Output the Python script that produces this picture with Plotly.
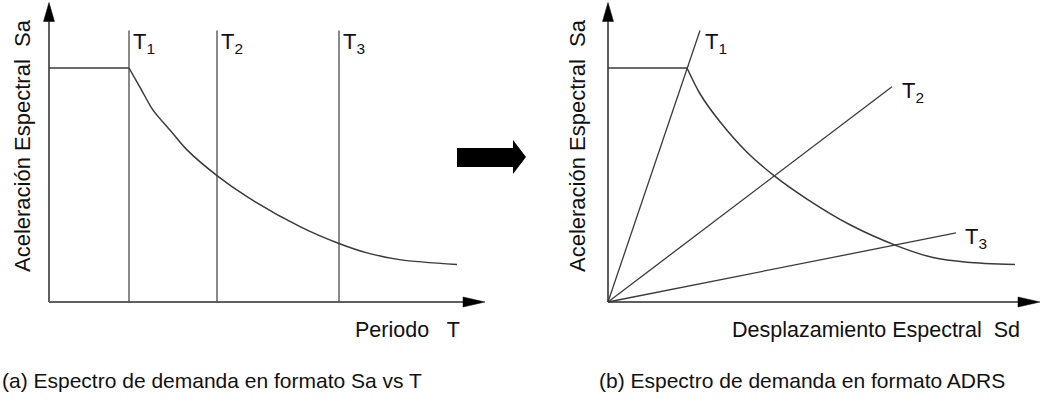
import plotly.graph_objects as go

# ---------------- data ----------------
# (a) Sa vs T
T_periods = [0.40, 0.84, 1.45]                 # T1, T2, T3 (s)
T_names = ["T<sub>1</sub>", "T<sub>2</sub>", "T<sub>3</sub>"]
Sa_plateau = 1.00
T_curve = [0.40, 0.46, 0.52, 0.61, 0.69, 0.84, 0.99, 1.26, 1.45, 1.59, 1.76, 2.04]
Sa_curve = [1.00, 0.91, 0.82, 0.73, 0.65, 0.54, 0.45, 0.32, 0.25, 0.21, 0.18, 0.16]
Sa_period_top = 1.16
T_axis_max = 2.18
Sa_axis_max = 1.28

# (b) ADRS
Sd_curve = [3.95, 4.60, 5.60, 6.95, 8.30, 9.95, 12.10, 14.45, 16.25, 17.95, 20.35]
Sa_adrs = [1.00, 0.89, 0.77, 0.64, 0.54, 0.44, 0.33, 0.24, 0.19, 0.17, 0.16]
Sd_plateau_end = 3.95
Sd_ray_end = [4.60, 14.20, 17.40]
Sa_ray_end = [1.16, 0.92, 0.295]
Sd_axis_max = 21.6

# ---------------- layout geometry (pixels) ----------------
W, H = 1041, 407
X0_LEFT, X0_RIGHT, Y0 = 49, 608, 302       # axis origins
SX_LEFT, SX_RIGHT, SY = 200.0, 20.0, 234.0  # px per data unit
SPLIT = W / 2.0

FONT = "Liberation Sans, Arial, sans-serif"
AXIS_COLOR = "#5f5f5f"
LINE_COLOR = "#3a3a3a"

fig = go.Figure()

def line(x, y, xa, color=LINE_COLOR, width=1.3, shape="linear"):
    fig.add_trace(go.Scatter(x=x, y=y, mode="lines", xaxis=xa[0], yaxis=xa[1],
                             line=dict(color=color, width=width, shape=shape, smoothing=0.8),
                             hoverinfo="skip", showlegend=False))

def tri(x, y, xa):
    fig.add_trace(go.Scatter(x=x, y=y, mode="lines", fill="toself", xaxis=xa[0], yaxis=xa[1],
                             fillcolor="black", line=dict(color="black", width=0.5),
                             hoverinfo="skip", showlegend=False))

def axes_with_arrows(xmax, sx, xa):
    ah_len, ah_half = 19 / SY, 5.5 / sx
    line([0, 0], [0, Sa_axis_max - ah_len], xa, AXIS_COLOR, 2)
    tri([-ah_half, ah_half, 0, -ah_half],
        [Sa_axis_max - ah_len, Sa_axis_max - ah_len, Sa_axis_max, Sa_axis_max - ah_len], xa)
    xh_len, xh_half = 22 / sx, 5 / SY
    line([0, xmax - xh_len], [0, 0], xa, AXIS_COLOR, 2)
    tri([xmax - xh_len, xmax - xh_len, xmax, xmax - xh_len],
        [-xh_half, xh_half, 0, -xh_half], xa)

L = ("x", "y")
R = ("x2", "y2")

# ----- (a) -----
axes_with_arrows(T_axis_max, SX_LEFT, L)
line([0, T_periods[0]], [Sa_plateau, Sa_plateau], L)
for tp in T_periods:
    line([tp, tp], [0, Sa_period_top], L, "#4a4a4a", 1.3)
line(T_curve, Sa_curve, L, "#3a3a3a", 1.5, "spline")

# ----- (b) -----
axes_with_arrows(Sd_axis_max, SX_RIGHT, R)
line([0, Sd_plateau_end], [Sa_plateau, Sa_plateau], R)
for sd, sa in zip(Sd_ray_end, Sa_ray_end):
    line([0, sd], [0, sa], R, "#3a3a3a", 1.3)
line(Sd_curve, Sa_adrs, R, "#3a3a3a", 1.5, "spline")

ann = []
def px_text(text, px, py, size, xanchor="center", yanchor="middle", angle=0):
    ann.append(dict(text=text, x=px / W, y=1 - py / H, xref="paper", yref="paper",
                    xanchor=xanchor, yanchor=yanchor, showarrow=False, textangle=angle,
                    font=dict(family=FONT, size=size, color="#111")))

for tp, name in zip(T_periods, T_names):
    ann.append(dict(text=name, x=tp, y=Sa_period_top, xref="x", yref="y",
                    xanchor="left", yanchor="middle", xshift=2, yshift=-12, showarrow=False,
                    font=dict(family=FONT, size=22, color="#111")))
for sd, sa, name, dx, dy in zip(Sd_ray_end, Sa_ray_end, T_names, [3, 8, 7], [-12, -5, -5]):
    ann.append(dict(text=name, x=sd, y=sa, xref="x2", yref="y2",
                    xanchor="left", yanchor="middle", xshift=dx, yshift=dy, showarrow=False,
                    font=dict(family=FONT, size=22, color="#111")))

px_text("Aceleración Espectral  Sa", 22, 146, 22, angle=-90)
px_text("Aceleración Espectral  Sa", 577, 146, 22, angle=-90)
px_text("Periodo   T", 462, 330, 21.5, xanchor="right")
px_text("Desplazamiento Espectral  Sd", 1022, 330, 21.5, xanchor="right")
px_text("(a) Espectro de demanda en formato Sa vs T", 0, 380, 21, xanchor="left")
px_text("(b) Espectro de demanda en formato ADRS", 802, 380, 21)

pts = [(457, 148), (513, 148), (513, 140), (526, 157), (513, 174), (513, 167), (457, 167)]
path = "M " + " L ".join(f"{x / W:.5f},{1 - y / H:.5f}" for x, y in pts) + " Z"
shapes = [dict(type="path", xref="paper", yref="paper", path=path,
               fillcolor="black", line=dict(color="black", width=0))]

def xrange(x0, sx, d0, d1):
    return [(d0 - x0) / sx, (d1 - x0) / sx]

yr = [-(H - Y0) / SY, Y0 / SY]
fig.update_layout(
    width=W, height=H, margin=dict(l=0, r=0, t=0, b=0),
    paper_bgcolor="white", plot_bgcolor="white",
    xaxis=dict(domain=[0, SPLIT / W], range=xrange(X0_LEFT, SX_LEFT, 0, SPLIT), visible=False),
    yaxis=dict(domain=[0, 1], range=yr, visible=False),
    xaxis2=dict(domain=[SPLIT / W, 1], range=xrange(X0_RIGHT, SX_RIGHT, SPLIT, W), visible=False),
    yaxis2=dict(domain=[0, 1], range=yr, visible=False, anchor="x2"),
    annotations=ann, shapes=shapes,
)
fig.write_html("out.html", config={"displayModeBar": False},
               post_script="document.body.style.margin='0px';")
